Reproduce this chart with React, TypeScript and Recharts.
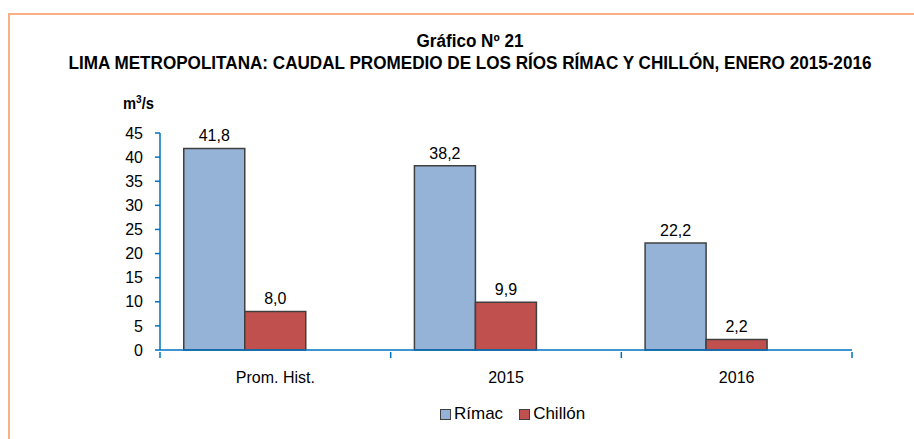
import { BarChart, Bar, XAxis, YAxis, Legend, LabelList } from 'recharts';

const categorias = ['Prom. Hist.', '2015', '2016'];
const rimac = [41.8, 38.2, 22.2];
const chillon = [8.0, 9.9, 2.2];
const yTicks = [0, 5, 10, 15, 20, 25, 30, 35, 40, 45];

const data = categorias.map((c, i) => ({ categoria: c, rimac: rimac[i], chillon: chillon[i] }));

const AZUL_EJE = '#0070C0';
const BORDE_BARRA = '#404040';
const FUENTE = "'Liberation Sans', Arial, sans-serif";

const W = 914;
const H = 439;
const margen = { top: 133, right: 62, left: 110, bottom: 15 };
const ANCHO_Y = 50;
const MEDIA_BANDA = (W - margen.left - margen.right - ANCHO_Y) / categorias.length / 2;

const coma = (v: any) => (typeof v === 'number' ? v.toFixed(1).replace('.', ',') : '');

function TickX(props: any) {
    const { x, y, payload, index } = props;
    const half = payload && payload.offset ? payload.offset : MEDIA_BANDA;
    const ultimo = index === categorias.length - 1;
    return (
        <g>
            <line x1={x - half} y1={y - 6} x2={x - half} y2={y} stroke={AZUL_EJE} strokeWidth={1.5} />
            {ultimo && <line x1={x + half} y1={y - 6} x2={x + half} y2={y} stroke={AZUL_EJE} strokeWidth={1.5} />}
            <text x={x} y={y + 25} textAnchor="middle" fontSize={16} fill="#000" fontFamily={FUENTE}>
                {payload.value}
            </text>
        </g>
    );
}

function Leyenda() {
    const items = [
        { nombre: 'Rímac', color: '#95B3D7' },
        { nombre: 'Chillón', color: '#C0504D' },
    ];
    return (
        <div style={{ display: 'flex', alignItems: 'center', fontFamily: FUENTE, fontSize: 17, color: '#000' }}>
            {items.map((it) => (
                <div key={it.nombre} style={{ display: 'flex', alignItems: 'center', marginRight: 16 }}>
                    <span style={{ width: 9, height: 9, background: it.color, border: `1.5px solid ${BORDE_BARRA}`, marginRight: 3 }} />
                    <span>{it.nombre}</span>
                </div>
            ))}
        </div>
    );
}

const estiloTitulo = {
    whiteSpace: 'nowrap' as const,
    transform: 'scaleX(0.95)',
    transformOrigin: 'center',
};

export default function App() {
    return (
        <div style={{ position: 'absolute', left: 0, top: 0, width: W, height: H, overflow: 'hidden', background: '#fff', fontFamily: FUENTE }}>
            <div style={{ position: 'absolute', left: 8, top: 13, width: 940, height: 480, border: '2px solid #F8B084', boxSizing: 'border-box' }} />
            <div style={{ position: 'absolute', left: 0, width: 940, top: 30, textAlign: 'center', fontWeight: 'bold', fontSize: 18, lineHeight: '22px', color: '#000' }}>
                <div style={estiloTitulo}>Gráfico Nº 21</div>
                <div style={estiloTitulo}>LIMA METROPOLITANA: CAUDAL PROMEDIO DE LOS RÍOS RÍMAC Y CHILLÓN, ENERO 2015-2016</div>
            </div>
            <div style={{ position: 'absolute', left: 123, top: 93, fontWeight: 'bold', fontSize: 16, color: '#000', transform: 'scaleX(0.92)', transformOrigin: 'left' }}>
                m<sup style={{ fontSize: 11 }}>3</sup>/s
            </div>
            <div style={{ position: 'absolute', left: 0, top: 0 }}>
                <BarChart width={W} height={H} data={data} margin={margen} barCategoryGap="10.3%" barGap={0}>
                    <XAxis
                        dataKey="categoria"
                        axisLine={{ stroke: AZUL_EJE, strokeWidth: 1.5 }}
                        tickLine={false}
                        tickSize={6}
                        tick={<TickX />}
                        interval={0}
                        height={54}
                    />
                    <YAxis
                        domain={[0, 45]}
                        ticks={yTicks}
                        interval={0}
                        width={ANCHO_Y}
                        axisLine={{ stroke: AZUL_EJE, strokeWidth: 1.5 }}
                        tickLine={{ stroke: AZUL_EJE, strokeWidth: 1.5 }}
                        tickSize={5}
                        tickMargin={12}
                        tick={{ fontSize: 16, fill: '#000', fontFamily: FUENTE }}
                    />
                    <Legend verticalAlign="bottom" content={<Leyenda />} wrapperStyle={{ left: 440, width: 'auto' }} />
                    <Bar dataKey="rimac" name="Rímac" fill="#95B3D7" stroke={BORDE_BARRA} strokeWidth={1.5} isAnimationActive={false}>
                        <LabelList dataKey="rimac" position="top" offset={7} formatter={coma} fontSize={16} fill="#000" fontFamily={FUENTE} />
                    </Bar>
                    <Bar dataKey="chillon" name="Chillón" fill="#C0504D" stroke={BORDE_BARRA} strokeWidth={1.5} isAnimationActive={false}>
                        <LabelList dataKey="chillon" position="top" offset={7} formatter={coma} fontSize={16} fill="#000" fontFamily={FUENTE} />
                    </Bar>
                    <Bar dataKey="sinDatos" legendType="none" isAnimationActive={false} />
                </BarChart>
            </div>
        </div>
    );
}
